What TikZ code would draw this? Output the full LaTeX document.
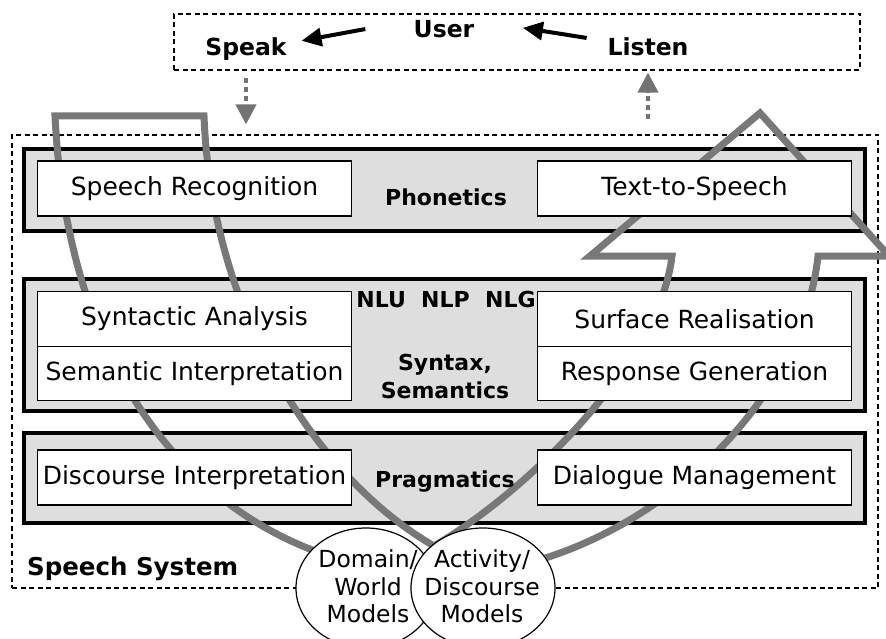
\documentclass[tikz,border=0pt]{standalone}
\usepackage{fontspec}
\setmainfont{DejaVu Sans}
\usetikzlibrary{arrows.meta,shapes.geometric}
\definecolor{bandGray}{gray}{0.47}
\definecolor{panelGray}{gray}{0.87}
\definecolor{cueGray}{gray}{0.45}
\newcommand{\boxFont}[0]{\fontsize{25}{30}\selectfont}
\newcommand{\layerFont}[0]{\fontsize{22}{28}\selectfont\bfseries}
\newcommand{\userFont}[0]{\fontsize{23.5}{28}\selectfont\bfseries}
\newcommand{\systemFont}[0]{\fontsize{24.5}{29}\selectfont\bfseries}
\newcommand{\modelFont}[0]{\fontsize{23.5}{27.5}\selectfont}

\begin{document}
\begin{tikzpicture}[x=1pt, y=-1pt]
  \tikzset{
    dashedFrame/.style={draw, dash pattern=on 5pt off 3.5pt, line width=1.2pt, inner sep=0pt},
    panel/.style={draw, fill=panelGray, line width=3.5pt, inner sep=0pt, minimum width=841pt},
    module/.style={draw, fill=white, line width=1.2pt, inner sep=0pt,
      minimum width=314pt, minimum height=55pt, font=\boxFont},
    layer/.style={inner sep=0pt, anchor=base, font=\layerFont, align=center},
    voice/.style={inner sep=0pt, anchor=base, font=\userFont},
    band/.style={draw=bandGray, line width=7pt},
    talk/.style={line width=4pt, -{Triangle[length=20pt,width=18pt]}},
    sound/.style={cueGray, line width=4pt, dash pattern=on 5pt off 4pt,
      -{Triangle[length=20pt,width=20pt]}},
    model/.style={ellipse, draw, fill=white, line width=1.2pt, inner sep=0pt},
    modelText/.style={inner sep=0pt, align=center, font=\modelFont}
  }
  \useasboundingbox (0,0) rectangle (886,639);

  \node[dashedFrame, minimum width=866pt, minimum height=453pt] (system) at (445,361.5) {};
  \node[dashedFrame, minimum width=686pt, minimum height=56pt] (userFrame) at (517,42) {};
  \node[voice] (user) at (444,37.5) {User};
  \node[voice] (speak) at (246,56) {Speak};
  \node[voice] (listen) at (648,56) {Listen};
  \node[voice, anchor=base west, font=\systemFont] (systemLabel) at (27,575) {Speech System};

  \draw[talk, shorten <=49pt, shorten >=15pt] (user.north west) -- ([yshift=6pt]speak.east);
  \draw[talk, shorten <=21pt, shorten >=49pt] ([yshift=6pt]listen.west) -- (user.north east);
  \draw[sound, shorten <=7pt, shorten >=10pt] (speak |- userFrame.south) -- (speak |- system.north);
  \draw[sound, shorten <=15pt, shorten >=2pt] (listen |- system.north) -- (listen |- userFrame.south);

  \node[panel, minimum height=82pt] (phonPanel) at (444.5,190) {};
  \node[panel, minimum height=132pt] (nlpPanel) at (444.5,345) {};
  \node[panel, minimum height=90pt] (pragPanel) at (444.5,478) {};

  \draw[band] (672,256) -- (590,256) -- (760,113) -- (889,256) -- (818,256)
    .. controls (800,420) and (620,575) .. (440,575)
    .. controls (240,570) and (70,420) .. (55,116)
    -- (204,116)
    .. controls (212,320) and (320,480) .. (434,546)
    .. controls (530,490) and (660,360) .. (672,256) -- cycle;

  \node[module] (speechRec) at (194.5,188.5) {Speech Recognition};
  \node[module] (tts) at (694.5,188.5) {Text-to-Speech};
  \node[module, minimum height=54.5pt] (syntactic) at (194.5,319) {Syntactic Analysis};
  \node[module, minimum height=54.5pt] (semantic) at (194.5,373.5) {Semantic Interpretation};
  \node[module, minimum height=54.5pt] (surface) at (694.5,319) {Surface Realisation};
  \node[module, minimum height=54.5pt] (response) at (694.5,373.5) {Response Generation};
  \node[module] (discourse) at (194.5,477.5) {Discourse Interpretation};
  \node[module] (dialogue) at (694.5,477.5) {Dialogue Management};

  \node[layer] (phonetics) at (446,206) {Phonetics};
  \node[layer] (nlx) at (446,307) {NLU~~NLP~~NLG};
  \node[layer, anchor=center] (syntax) at (445,376) {Syntax,\\Semantics};
  \node[layer] (pragmatics) at (445,487) {Pragmatics};

  \node[model, minimum width=140pt, minimum height=120pt] (domain) at (366,588) {};
  \node[model, minimum width=144pt, minimum height=120pt] (activity) at (483,588) {};
  \node[modelText] (domainText) at (368,586.5) {Domain/\\World\\Models};
  \node[modelText] (activityText) at (482,586.5) {Activity/\\Discourse\\Models};
\end{tikzpicture}
\end{document}
